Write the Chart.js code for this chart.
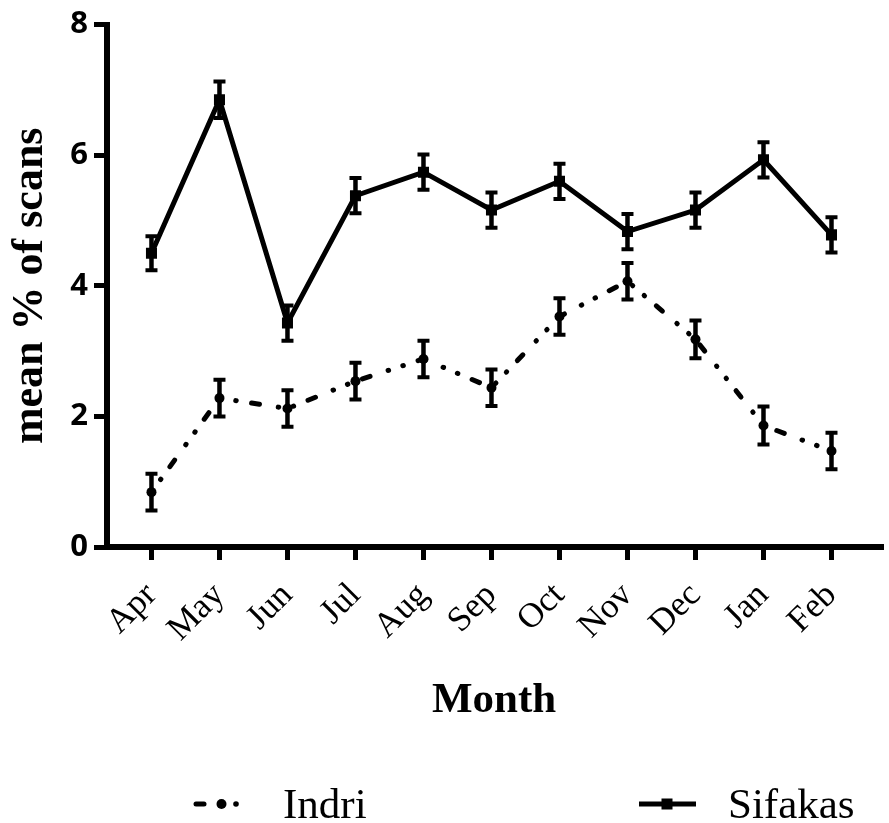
<!DOCTYPE html>
<html>
<head>
<meta charset="utf-8">
<script src="https://cdn.jsdelivr.net/npm/chart.js@4.4.1/dist/chart.umd.min.js"></script>
<style>
  html, body { margin: 0; padding: 0; background: #fff; }
  canvas { display: block; }
</style>
</head>
<body>
<canvas id="scanChart" width="889" height="823"></canvas>
<script>
const months = ['Apr', 'May', 'Jun', 'Jul', 'Aug', 'Sep', 'Oct', 'Nov', 'Dec', 'Jan', 'Feb'];
const indriMean = [0.84, 2.28, 2.12, 2.54, 2.88, 2.44, 3.53, 4.07, 3.18, 1.86, 1.47];
const indriSem = [0.28, 0.28, 0.28, 0.28, 0.28, 0.28, 0.28, 0.28, 0.29, 0.29, 0.28];
const sifakaMean = [4.50, 6.85, 3.43, 5.38, 5.74, 5.16, 5.60, 4.83, 5.16, 5.93, 4.78];
const sifakaSem = [0.26, 0.28, 0.27, 0.27, 0.27, 0.27, 0.27, 0.27, 0.27, 0.27, 0.27];
const yTicks = [0, 2, 4, 6, 8];

const serif = '"Liberation Serif", "Times New Roman", serif';

// SEM whiskers with flat caps, drawn on top of the lines
const errorBars = {
    id: 'errorBars',
    afterDatasetsDraw(chart) {
        const { ctx, scales: { x, y } } = chart;
        ctx.save();
        ctx.strokeStyle = '#000';
        ctx.lineCap = 'butt';
        chart.data.datasets.forEach(ds => {
            ds.data.forEach((p, i) => {
                const px = x.getPixelForValue(p.x);
                const top = y.getPixelForValue(p.y + ds.sem[i]);
                const bot = y.getPixelForValue(p.y - ds.sem[i]);
                ctx.lineWidth = 4.5;
                ctx.beginPath();
                ctx.moveTo(px, top);
                ctx.lineTo(px, bot);
                ctx.stroke();
                ctx.lineWidth = 4;
                ctx.beginPath();
                ctx.moveTo(px - 6, top);
                ctx.lineTo(px + 6, top);
                ctx.moveTo(px - 6, bot);
                ctx.lineTo(px + 6, bot);
                ctx.stroke();
            });
        });
        ctx.restore();
    }
};

// two-item legend spread under the axis title
const legendRow = {
    id: 'legendRow',
    afterDraw(chart) {
        const ctx = chart.ctx;
        const y = 804;
        ctx.save();
        ctx.fillStyle = '#000';
        ctx.strokeStyle = '#000';

        // Indri: dash, marker, dot
        ctx.lineWidth = 5;
        ctx.lineCap = 'round';
        ctx.beginPath();
        ctx.moveTo(196, y);
        ctx.lineTo(204, y);
        ctx.stroke();
        ctx.beginPath();
        ctx.arc(221.5, y, 5, 0, Math.PI * 2);
        ctx.fill();
        ctx.beginPath();
        ctx.arc(236, y, 2.8, 0, Math.PI * 2);
        ctx.fill();

        // Sifakas: solid line with square marker
        ctx.lineCap = 'butt';
        ctx.beginPath();
        ctx.moveTo(639, y);
        ctx.lineTo(696, y);
        ctx.stroke();
        ctx.fillRect(667 - 5.5, y - 5.5, 11, 11);

        ctx.font = '43px ' + serif;
        ctx.textBaseline = 'alphabetic';
        ctx.textAlign = 'left';
        ctx.fillText(chart.data.datasets[0].label, 283, 818);
        ctx.fillText(chart.data.datasets[1].label, 728, 818);
        ctx.restore();
    }
};

const ctx = document.getElementById('scanChart').getContext('2d');
new Chart(ctx, {
    type: 'line',
    data: {
        datasets: [{
            label: 'Indri',
            data: indriMean.map((v, i) => ({ x: i, y: v })),
            sem: indriSem,
            borderColor: '#000',
            backgroundColor: '#000',
            borderWidth: 5,
            borderDash: [0.5, 15, 0.5, 15.5, 8, 19],
            borderCapStyle: 'round',
            pointStyle: 'circle',
            pointRadius: 5,
            pointBorderWidth: 0,
            tension: 0
        }, {
            label: 'Sifakas',
            data: sifakaMean.map((v, i) => ({ x: i, y: v })),
            sem: sifakaSem,
            borderColor: '#000',
            backgroundColor: '#000',
            borderWidth: 5,
            pointStyle: 'rect',
            pointRadius: 7.8,
            pointBorderWidth: 0,
            tension: 0
        }]
    },
    options: {
        responsive: false,
        animation: false,
        layout: { padding: { top: 20, left: 0, right: -13, bottom: 0 } },
        plugins: {
            legend: { display: false },
            tooltip: { enabled: false }
        },
        scales: {
            x: {
                type: 'linear',
                min: -0.654,
                max: 10.731,
                afterBuildTicks: s => { s.ticks = months.map((m, i) => ({ value: i })); },
                afterFit: s => { s.height = 276; },
                grid: { drawOnChartArea: false, drawTicks: true, tickLength: 13, lineWidth: 5, color: '#000' },
                border: { display: true, width: 6, color: '#000' },
                ticks: {
                    autoSkip: false,
                    maxRotation: 45,
                    minRotation: 45,
                    padding: 15,
                    color: '#000',
                    font: { family: serif, size: 35 },
                    callback: v => months[v]
                },
                title: {
                    display: true,
                    text: 'Month',
                    color: '#000',
                    font: { family: serif, size: 43, weight: 'bold' },
                    padding: { top: 0, bottom: 96 }
                }
            },
            y: {
                min: 0,
                max: 8,
                afterBuildTicks: s => { s.ticks = yTicks.map(v => ({ value: v })); },
                afterFit: s => { s.width = 107; },
                grid: { drawOnChartArea: false, drawTicks: true, tickLength: 13, lineWidth: 5, color: '#000' },
                border: { display: true, width: 6, color: '#000' },
                ticks: {
                    padding: 6,
                    color: '#000',
                    font: { family: '"Open Sans", sans-serif', size: 31, weight: 'bold' }
                },
                title: {
                    display: true,
                    text: 'mean % of scans',
                    color: '#000',
                    font: { family: serif, size: 44, weight: 'bold' },
                    padding: { top: 4, bottom: 0 }
                }
            }
        }
    },
    plugins: [errorBars, legendRow]
});
</script>
</body>
</html>
